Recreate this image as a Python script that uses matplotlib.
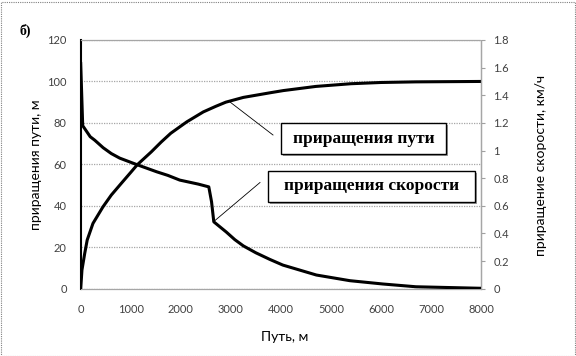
import matplotlib
matplotlib.use("Agg")
import matplotlib.pyplot as plt
from matplotlib.patches import Rectangle

# Data
path_x = [0, 25, 80, 130, 245, 445, 612, 810, 1010, 1130, 1410, 1610, 1800, 2120,
          2450, 2700, 2900, 3250, 3800, 4050, 4700, 5400, 6000, 6700, 8000]
path_y = [0, 9, 17, 23.5, 31.5, 39.5, 45.2, 50.8, 56.4, 59.8, 66, 70.8, 75, 80.5,
          85.3, 88, 90, 92.3, 94.6, 95.6, 97.6, 98.9, 99.5, 99.8, 100]

speed_x = [0, 40, 190, 280, 450, 612, 780, 1130, 1520, 1743, 1980, 2350, 2560, 2615,
           2660, 2910, 3080, 3250, 3500, 3780, 4040, 4710, 5380, 6040, 6700, 8000]
speed_y = [1.63, 1.18, 1.10, 1.075, 1.02, 0.978, 0.945, 0.897, 0.846, 0.82, 0.786,
           0.757, 0.737, 0.629, 0.484, 0.41, 0.355, 0.31, 0.26, 0.212, 0.171, 0.099,
           0.058, 0.034, 0.014, 0.003]

x_ticks = [0, 1000, 2000, 3000, 4000, 5000, 6000, 7000, 8000]
left_ticks = [0, 20, 40, 60, 80, 100, 120]
right_ticks = [0, 0.2, 0.4, 0.6, 0.8, 1.0, 1.2, 1.4, 1.6, 1.8]
right_labels = ["0", "0.2", "0.4", "0.6", "0.8", "1", "1.2", "1.4", "1.6", "1.8"]

W, H = 576, 356
fig = plt.figure(figsize=(W / 100, H / 100), dpi=100)
ax = fig.add_axes([80.7 / W, 1 - 288.7 / H, (481 - 80.7) / W, (288.7 - 40) / H])
ax2 = ax.twinx()

tickfont = dict(family="Lato", size=8, color="#404040")

ax.plot(path_x, path_y, color="black", lw=2.2, solid_joinstyle="round", zorder=3)
ax2.plot(speed_x, speed_y, color="black", lw=2.2, solid_joinstyle="round", zorder=3)

ax.set_xlim(0, 8000)
ax.set_ylim(0, 120)
ax2.set_ylim(0, 1.8)
ax.set_xticks(x_ticks)
ax.set_xticklabels([str(v) for v in x_ticks], **tickfont)
ax.set_yticks(left_ticks)
ax.set_yticklabels([str(v) for v in left_ticks], **tickfont)
ax2.set_yticks(right_ticks)
ax2.set_yticklabels(right_labels, **tickfont)

ax.tick_params(axis="x", length=0, pad=11)
ax.tick_params(axis="y", length=0, pad=10)
ax2.tick_params(axis="y", length=3, color="#a0a0a0", width=0.8, pad=6)

ax.grid(axis="y", color="#a6a6a6", linestyle=(0, (1, 1)), lw=0.9)
ax.set_axisbelow(True)

for sp in ["top", "right", "bottom"]:
    ax.spines[sp].set_color("#a6a6a6")
    ax.spines[sp].set_linestyle((0, (1, 1)))
    ax.spines[sp].set_linewidth(0.9)
ax.spines["left"].set_color("black")
ax.spines["left"].set_linewidth(1.5)
for sp in ["top", "left", "bottom"]:
    ax2.spines[sp].set_visible(False)
ax2.spines["right"].set_color("#a6a6a6")
ax2.spines["right"].set_linestyle((0, (1, 1)))
ax2.spines["right"].set_linewidth(0.9)

labfont = dict(family="Lato", size=10, color="black")
fig.text(36 / W, 1 - 165 / H, "приращения пути, м", rotation=90, ha="center", va="center", **labfont)
fig.text(541 / W, 1 - 165 / H, "приращение скорости, км/ч", rotation=90, ha="center", va="center", **labfont)
fig.text(285 / W, 1 - 337 / H, "Путь, м", ha="center", va="center", **labfont)

fig.text(25 / W, 1 - 31 / H, "б)", ha="center", va="center", family="Liberation Serif",
         weight="bold", size=10)

def px(x, y):
    return (x / W, 1 - y / H)

def box(x0, y0, x1, y1, text):
    fig.patches.append(Rectangle(px(x0 + 2, y1 + 2), (x1 - x0) / W, (y1 - y0) / H,
                                 transform=fig.transFigure, facecolor="#9a9a9a",
                                 edgecolor="none", zorder=5))
    fig.patches.append(Rectangle(px(x0, y1), (x1 - x0) / W, (y1 - y0) / H,
                                 transform=fig.transFigure, facecolor="white",
                                 edgecolor="black", lw=1.0, zorder=6))
    fig.text((x0 + x1) / 2 / W, 1 - (y0 + y1) / 2 / H, text, ha="center", va="center",
             family="Liberation Serif", weight="bold", size=12.5, zorder=7)

def leader(a, b):
    fig.add_artist(plt.Line2D([a[0] / W, b[0] / W], [1 - a[1] / H, 1 - b[1] / H],
                              transform=fig.transFigure, color="black", lw=0.6, zorder=4))

leader((273, 135), (230, 102))
leader((260, 182.5), (215, 220.5))
box(281, 123.3, 445.7, 154, "приращения пути")
box(268.3, 171, 475.3, 201.7, "приращения скорости")

fig.patches.append(Rectangle((0.5 / W, 0.5 / H), (W - 2) / W, (H - 2) / H, transform=fig.transFigure,
                             facecolor="none", edgecolor="#808080", lw=0.8,
                             linestyle=(0, (1, 1)), zorder=10))

fig.savefig("out.png", dpi=100)
